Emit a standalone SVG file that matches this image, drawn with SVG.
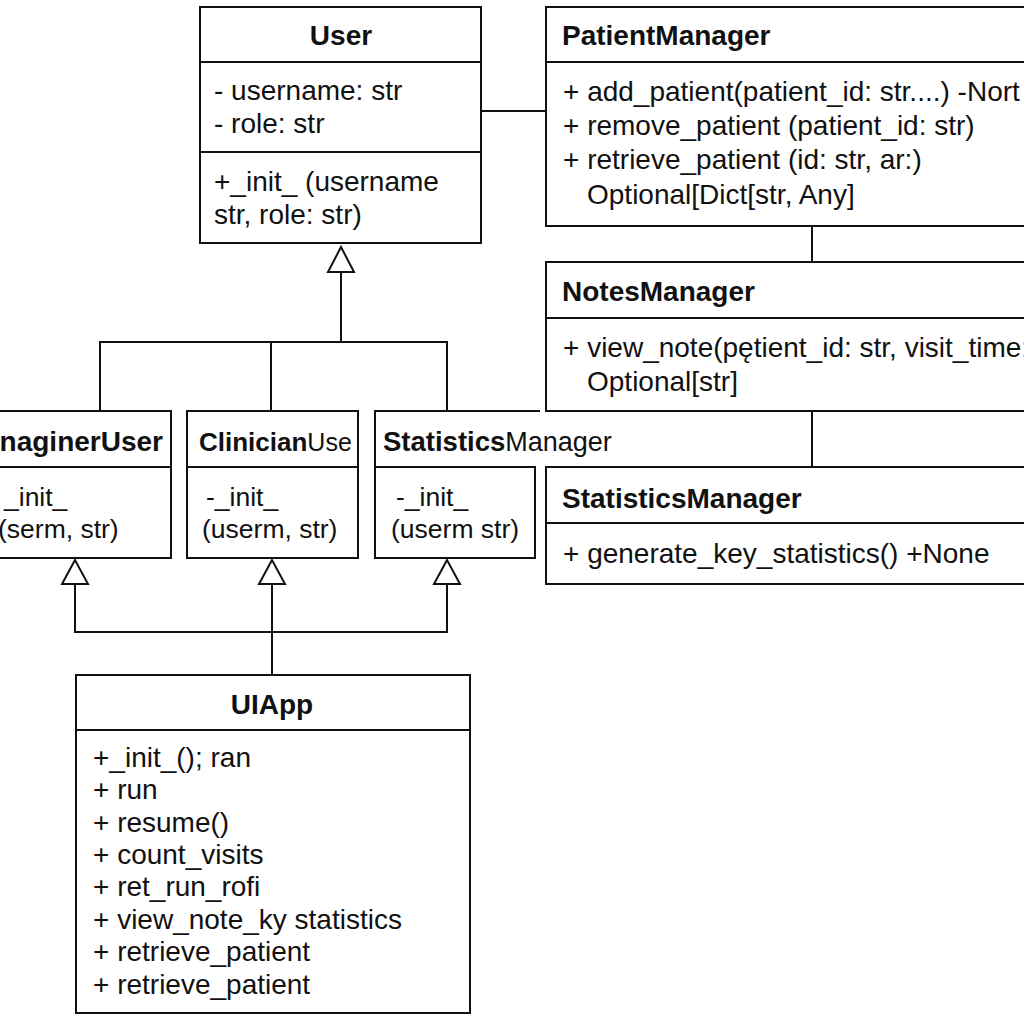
<svg xmlns="http://www.w3.org/2000/svg" width="1024" height="1024" viewBox="0 0 1024 1024">
<style>
.box{fill:#fff;stroke:#111;stroke-width:2}
.ln{stroke:#111;stroke-width:2;fill:none}
.t{font-family:"Liberation Sans",Arial,sans-serif;font-size:28px;fill:#111}
.s{font-family:"Liberation Sans",Arial,sans-serif;font-size:26.5px;fill:#111}
.b{font-family:"Liberation Sans",Arial,sans-serif;font-size:28px;font-weight:bold;fill:#111}
.tri{fill:#fff;stroke:#111;stroke-width:2}
</style>
<rect width="1024" height="1024" fill="#fff"/>
<g id="connectors">
<line class="ln" x1="481" y1="111" x2="546" y2="111"/>
<line class="ln" x1="812" y1="226" x2="812" y2="262"/>
<line class="ln" x1="812" y1="411" x2="812" y2="467"/>
<polyline class="ln" points="100,411 100,342 447,342 447,411"/>
<line class="ln" x1="271" y1="342" x2="271" y2="411"/>
<line class="ln" x1="341" y1="272" x2="341" y2="342"/>
<polygon class="tri" points="341,247 328,272 354,272"/>
<polyline class="ln" points="75,584 75,632 447,632 447,584"/>
<line class="ln" x1="272" y1="584" x2="272" y2="675"/>
<polygon class="tri" points="75,560 62,584 88,584"/>
<polygon class="tri" points="272,560 259,584 285,584"/>
<polygon class="tri" points="447,560 434,584 460,584"/>
</g>
<g id="User">
<rect class="box" x="200" y="7" width="281" height="236"/>
<line class="ln" x1="200" y1="62" x2="481" y2="62"/>
<line class="ln" x1="200" y1="152" x2="481" y2="152"/>
<text class="b" x="341" y="45" text-anchor="middle">User</text>
<text class="t" x="214" y="100">- username: str</text>
<text class="t" x="214" y="133">- role: str</text>
<text class="t" x="214" y="191">+_init_ (username</text>
<text class="t" x="214" y="224">str, role: str)</text>
</g>
<g id="PatientManager">
<rect class="box" x="546" y="7" width="490" height="219"/>
<line class="ln" x1="546" y1="62" x2="1024" y2="62"/>
<text class="b" x="562" y="45">PatientManager</text>
<text class="t" x="563" y="101">+ add_patient(patient_id: str....) -Nort</text>
<text class="t" x="563" y="135">+ remove_patient (patient_id: str)</text>
<text class="t" x="563" y="169">+ retrieve_patient (id: str, ar:)</text>
<text class="t" x="587" y="204">Optional[Dict[str, Any]</text>
</g>
<g id="NotesManager">
<rect class="box" x="546" y="262" width="490" height="149"/>
<line class="ln" x1="546" y1="318" x2="1024" y2="318"/>
<text class="b" x="562" y="301">NotesManager</text>
<text class="t" x="563" y="357">+ view_note(pętient_id: str, visit_time:</text>
<text class="t" x="587" y="391">Optional[str]</text>
</g>
<g id="StatisticsManager">
<rect class="box" x="546" y="467" width="490" height="117"/>
<line class="ln" x1="546" y1="523" x2="1024" y2="523"/>
<text class="b" x="562" y="508">StatisticsManager</text>
<text class="t" x="563" y="563">+ generate_key_statistics() +None</text>
</g>
<g id="ManaginerUser">
<polyline class="ln" points="-2,411 171,411 171,558 -2,558"/>
<line class="ln" x1="-2" y1="467" x2="171" y2="467"/>
<text class="b" x="163" y="451" text-anchor="end">naginerUser</text>
<text class="s" x="4" y="506">_init_</text>
<text class="s" x="-2" y="538">(serm, str)</text>
</g>
<g id="ClinicianUser">
<rect class="box" x="187" y="411" width="171" height="147"/>
<line class="ln" x1="187" y1="467" x2="358" y2="467"/>
<text class="b" x="199" y="451" style="font-size:26px">Clinician<tspan style="font-weight:normal;font-size:25px">Use</tspan></text>
<text class="s" x="206" y="506">-_init_</text>
<text class="s" x="202" y="538">(userm, str)</text>
</g>
<g id="StatisticsManagerUser">
<polyline class="ln" points="540,411 375,411 375,558 535,558 535,467 375,467"/>
<text class="b" x="383" y="451" style="font-size:27.5px">Statistics<tspan style="font-weight:normal;font-size:27px">Manager</tspan></text>
<text class="s" x="396" y="506">-_init_</text>
<text class="s" x="391" y="538">(userm str)</text>
</g>
<g id="UIApp">
<rect class="box" x="76" y="675" width="394" height="338"/>
<line class="ln" x1="76" y1="730" x2="470" y2="730"/>
<text class="b" x="272" y="714" text-anchor="middle">UIApp</text>
<text class="t" x="93" y="767">+_init_(); ran</text>
<text class="t" x="93" y="799">+ run</text>
<text class="t" x="93" y="832">+ resume()</text>
<text class="t" x="93" y="864">+ count_visits</text>
<text class="t" x="93" y="896">+ ret_run_rofi</text>
<text class="t" x="93" y="929">+ view_note_ky statistics</text>
<text class="t" x="93" y="961">+ retrieve_patient</text>
<text class="t" x="93" y="994">+ retrieve_patient</text>
</g>
</svg>
